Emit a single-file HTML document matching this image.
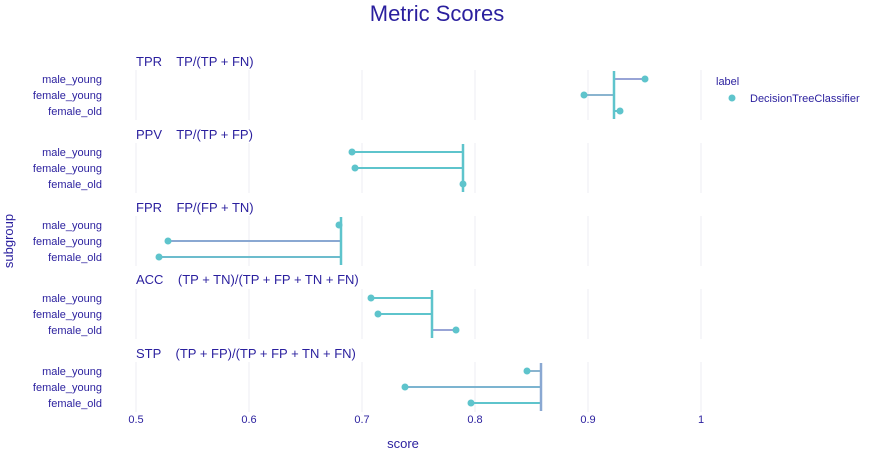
<!DOCTYPE html>
<html><head><meta charset="utf-8"><style>
html,body{margin:0;padding:0;background:#fff;}
svg{display:block;font-family:"Liberation Sans",sans-serif;}
text{white-space:pre;}
</style></head><body>
<svg width="875" height="476" xmlns="http://www.w3.org/2000/svg">
<rect width="875" height="476" fill="#fff"/>
<text x="437" y="21" text-anchor="middle" font-size="22" fill="#2a1f9e">Metric Scores</text>
<g stroke="#f2f2f7" stroke-width="1.5">
<line x1="136" y1="70" x2="136" y2="120"/><line x1="249" y1="70" x2="249" y2="120"/><line x1="362" y1="70" x2="362" y2="120"/><line x1="475" y1="70" x2="475" y2="120"/><line x1="588" y1="70" x2="588" y2="120"/><line x1="701" y1="70" x2="701" y2="120"/>
<line x1="136" y1="143" x2="136" y2="193"/><line x1="249" y1="143" x2="249" y2="193"/><line x1="362" y1="143" x2="362" y2="193"/><line x1="475" y1="143" x2="475" y2="193"/><line x1="588" y1="143" x2="588" y2="193"/><line x1="701" y1="143" x2="701" y2="193"/>
<line x1="136" y1="216" x2="136" y2="266"/><line x1="249" y1="216" x2="249" y2="266"/><line x1="362" y1="216" x2="362" y2="266"/><line x1="475" y1="216" x2="475" y2="266"/><line x1="588" y1="216" x2="588" y2="266"/><line x1="701" y1="216" x2="701" y2="266"/>
<line x1="136" y1="289" x2="136" y2="339"/><line x1="249" y1="289" x2="249" y2="339"/><line x1="362" y1="289" x2="362" y2="339"/><line x1="475" y1="289" x2="475" y2="339"/><line x1="588" y1="289" x2="588" y2="339"/><line x1="701" y1="289" x2="701" y2="339"/>
<line x1="136" y1="362" x2="136" y2="412"/><line x1="249" y1="362" x2="249" y2="412"/><line x1="362" y1="362" x2="362" y2="412"/><line x1="475" y1="362" x2="475" y2="412"/><line x1="588" y1="362" x2="588" y2="412"/><line x1="701" y1="362" x2="701" y2="412"/>
</g>
<g font-size="13" fill="#2a1f9e" xml:space="preserve">
<text x="136" y="66">TPR    TP/(TP + FN)</text>
<text x="136" y="139">PPV    TP/(TP + FP)</text>
<text x="136" y="212">FPR    FP/(FP + TN)</text>
<text x="136" y="284">ACC    (TP + TN)/(TP + FP + TN + FN)</text>
<text x="136" y="358">STP    (TP + FP)/(TP + FP + TN + FN)</text>
</g>
<g font-size="11" fill="#2a1f9e" text-anchor="end">
<text x="102" y="83">male_young</text><text x="102" y="99">female_young</text><text x="102" y="115">female_old</text>
<text x="102" y="156">male_young</text><text x="102" y="172">female_young</text><text x="102" y="188">female_old</text>
<text x="102" y="229">male_young</text><text x="102" y="245">female_young</text><text x="102" y="261">female_old</text>
<text x="102" y="302">male_young</text><text x="102" y="318">female_young</text><text x="102" y="334">female_old</text>
<text x="102" y="375">male_young</text><text x="102" y="391">female_young</text><text x="102" y="407">female_old</text>
</g>
<g font-size="11" fill="#2a1f9e" text-anchor="middle">
<text x="136" y="423">0.5</text><text x="249" y="423">0.6</text><text x="362" y="423">0.7</text><text x="475" y="423">0.8</text><text x="588" y="423">0.9</text><text x="701" y="423">1</text>
</g>
<text x="403" y="448" font-size="13" fill="#2a1f9e" text-anchor="middle">score</text>
<text transform="translate(13,241) rotate(-90)" font-size="13" fill="#2a1f9e" text-anchor="middle">subgroup</text>
<g stroke-width="2">
<line x1="614" y1="79" x2="645" y2="79" stroke="#98a4d6"/><line x1="614" y1="95" x2="584" y2="95" stroke="#8ab4cf"/><line x1="614" y1="111" x2="620" y2="111" stroke="#5ec4cc"/>
<line x1="463" y1="152" x2="352" y2="152" stroke="#5ec4cc"/><line x1="463" y1="168" x2="355" y2="168" stroke="#5ec4cc"/>
<line x1="341" y1="241" x2="168" y2="241" stroke="#8aa8d2"/><line x1="341" y1="257" x2="159" y2="257" stroke="#6cbccd"/>
<line x1="432" y1="298" x2="371" y2="298" stroke="#5ec4cc"/><line x1="432" y1="314" x2="378" y2="314" stroke="#5ec4cc"/><line x1="432" y1="330" x2="456" y2="330" stroke="#98a4d6"/>
<line x1="541" y1="371" x2="527" y2="371" stroke="#8ab4cf"/><line x1="541" y1="387" x2="405" y2="387" stroke="#7cb4d0"/><line x1="541" y1="403" x2="471" y2="403" stroke="#5ec4cc"/>
</g>
<g stroke="#5ec4cc" stroke-width="2.5">
<line x1="614" y1="71" x2="614" y2="119"/>
<line x1="463" y1="144" x2="463" y2="192"/>
<line x1="341" y1="217" x2="341" y2="265"/>
<line x1="432" y1="290" x2="432" y2="338"/>
<line x1="541" y1="363" x2="541" y2="411" stroke="#8aa8d2"/>
</g>
<g fill="#5ec4cc">
<circle cx="645" cy="79" r="3.5"/><circle cx="584" cy="95" r="3.5"/><circle cx="620" cy="111" r="3.5"/>
<circle cx="352" cy="152" r="3.5"/><circle cx="355" cy="168" r="3.5"/><circle cx="463" cy="184" r="3.5"/>
<circle cx="339" cy="225" r="3.5"/><circle cx="168" cy="241" r="3.5"/><circle cx="159" cy="257" r="3.5"/>
<circle cx="371" cy="298" r="3.5"/><circle cx="378" cy="314" r="3.5"/><circle cx="456" cy="330" r="3.5"/>
<circle cx="527" cy="371" r="3.5"/><circle cx="405" cy="387" r="3.5"/><circle cx="471" cy="403" r="3.5"/>
<circle cx="732" cy="98" r="3.5"/>
</g>
<text x="716" y="85" font-size="11" fill="#2a1f9e">label</text>
<text x="750" y="102" font-size="11" fill="#2a1f9e">DecisionTreeClassifier</text>
</svg>
</body></html>
